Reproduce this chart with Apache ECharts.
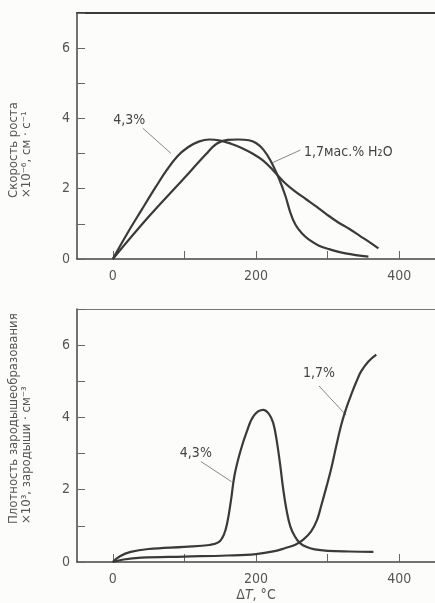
<!DOCTYPE html>
<html>
<head>
<meta charset="utf-8">
<script src="https://cdn.jsdelivr.net/npm/echarts@6/dist/echarts.min.js"></script>
<style>
  html, body { margin: 0; padding: 0; background: #fcfcfa; }
  #chart { width: 435px; height: 603px; }
</style>
</head>
<body>
<div id="chart"></div>
<script>
// верхняя панель: скорость роста (x10^-6 см/с)
const growthX43 = [0, 20, 40, 60, 75, 90, 105, 120, 135, 150, 165, 180, 195, 210, 225, 240, 255, 270, 285, 300, 315, 330, 345, 360, 371]
const growthY43 = [0, 0.72, 1.39, 2.05, 2.52, 2.92, 3.18, 3.34, 3.40, 3.37, 3.28, 3.16, 3.0, 2.8, 2.5, 2.17, 1.92, 1.70, 1.48, 1.25, 1.04, 0.86, 0.66, 0.46, 0.30]
const growthX17 = [0, 50, 97, 130, 145, 160, 175, 190, 200, 210, 220, 232, 241, 248, 255, 264, 274, 288, 302, 325, 357]
const growthY17 = [0, 1.2, 2.24, 2.98, 3.28, 3.39, 3.40, 3.38, 3.3, 3.12, 2.81, 2.29, 1.8, 1.32, 0.98, 0.73, 0.55, 0.38, 0.28, 0.16, 0.07]

// нижняя панель: плотность зародышеобразования (x10^3 см^-3)
const nucX43 = [0, 10, 25, 50, 100, 135, 148, 155, 160, 165, 170, 178, 187, 197, 210, 218, 224, 229, 234, 238, 243, 248, 254, 261, 270, 282, 300, 330, 364]
const nucY43 = [0, 0.16, 0.28, 0.36, 0.42, 0.47, 0.55, 0.75, 1.1, 1.7, 2.4, 3.05, 3.6, 4.05, 4.21, 4.1, 3.85, 3.35, 2.65, 2.02, 1.4, 0.98, 0.72, 0.53, 0.42, 0.35, 0.31, 0.29, 0.28]
const nucX17 = [0, 15, 40, 100, 160, 200, 226, 240, 255, 266, 277, 285, 291, 298, 305, 312, 319, 326, 333, 340, 347, 357, 368]
const nucY17 = [0, 0.07, 0.12, 0.15, 0.18, 0.22, 0.30, 0.38, 0.48, 0.62, 0.85, 1.15, 1.55, 2.05, 2.58, 3.2, 3.79, 4.25, 4.63, 4.98, 5.28, 5.55, 5.74]

const xTicks = [0, 100, 200, 300, 400]
const xLabels = [0, 200, 400]
const yLabels = [0, 2, 4, 6]

const titleTop = ['Скорость роста', '×10⁻⁶, см · с⁻¹']
const titleBottom = ['Плотность зародышеобразования', '×10³, зародыши · см⁻³']

// подписи кривых: [панель, текст, x, y, начало выноски, конец выноски]
const notes = [
  [0, '4,3%', 23, 3.95, [42, 3.72], [81, 3.01]],
  [0, '1,7мас.% H₂O', 267, 3.04, [262, 3.10], [222, 2.73]],
  [1, '4,3%', 116, 3.0, [123, 2.78], [166, 2.22]],
  [1, '1,7%', 288, 5.23, [288, 4.87], [326, 4.06]]
]

const FONT = '"DejaVu Sans Condensed", "Liberation Sans Narrow", "DejaVu Sans", sans-serif'
const INK = '#3a3a3a'

const zip = (xs, ys) => xs.map((x, i) => [x, ys[i]])

const chart = echarts.init(document.getElementById('chart'))

const xAxisFor = (gridIndex, withName) => ({
  gridIndex,
  type: 'value',
  min: -50,
  max: 450,
  axisLine: { onZero: false, lineStyle: { color: '#444', width: 1.5 } },
  axisTick: { inside: true, length: 8, customValues: xTicks, lineStyle: { color: '#666', width: 1 } },
  axisLabel: {
    customValues: xLabels,
    margin: 10,
    fontFamily: FONT,
    fontSize: 14,
    color: '#555',
    formatter: v => (xLabels.includes(v) ? String(v) : '')
  },
  splitLine: { show: false },
  name: withName ? '{d|Δ}{t|T}{d|, °C}' : '',
  nameLocation: 'middle',
  nameGap: 26,
  nameTextStyle: {
    rich: {
      d: { fontFamily: FONT, fontSize: 14, color: '#555' },
      t: { fontFamily: FONT, fontSize: 14, color: '#555', fontStyle: 'italic' }
    }
  }
})

const frameTop = (gridIndex, width, color) => ({
  gridIndex,
  type: 'value',
  position: 'top',
  min: -50,
  max: 450,
  axisLine: { show: true, onZero: false, lineStyle: { color, width } },
  axisTick: { show: false },
  axisLabel: { show: false },
  splitLine: { show: false }
})

const yAxisFor = gridIndex => ({
  gridIndex,
  type: 'value',
  position: 'left',
  min: 0,
  max: 7,
  interval: 1,
  axisLine: { show: true, onZero: false, lineStyle: { color: '#444', width: 1.5 } },
  axisTick: { show: true, inside: true, length: 8, lineStyle: { color: '#666', width: 1 } },
  axisLabel: {
    margin: 7,
    fontFamily: FONT,
    fontSize: 14,
    color: '#555',
    formatter: v => (yLabels.includes(v) ? String(v) : '')
  },
  splitLine: { show: false }
})

const curve = (xAxisIndex, yAxisIndex, xs, ys) => ({
  type: 'line',
  xAxisIndex,
  yAxisIndex,
  data: zip(xs, ys),
  smooth: 0.4,
  symbol: 'none',
  lineStyle: { color: INK, width: 2.2 },
  z: 3
})

chart.setOption({
  animation: false,
  backgroundColor: '#fcfcfa',
  grid: [
    { left: 77, top: 13, width: 358, height: 246 },
    { left: 77, top: 309, width: 358, height: 253 }
  ],
  xAxis: [xAxisFor(0, false), xAxisFor(1, true), frameTop(0, 2, '#3a3a3a'), frameTop(1, 1, '#777')],
  yAxis: [yAxisFor(0), yAxisFor(1)],
  series: [
    curve(0, 0, growthX43, growthY43),
    curve(0, 0, growthX17, growthY17),
    curve(1, 1, nucX43, nucY43),
    curve(1, 1, nucX17, nucY17)
  ]
})

// подписи осей Y (повёрнутые, выровнены по нижнему краю) и выноски
const graphics = []
const yTitle = (lines, yBottom) => ({
  type: 'text',
  x: 7,
  y: yBottom,
  rotation: Math.PI / 2,
  style: {
    text: lines.join('\n'),
    fontFamily: FONT,
    fontSize: 13,
    lineHeight: 13,
    fill: '#555',
    align: 'left',
    verticalAlign: 'top'
  }
})
graphics.push(yTitle(titleTop, 198))
graphics.push(yTitle(titleBottom, 524))

notes.forEach(([g, text, x, y, from, to]) => {
  const p = chart.convertToPixel({ gridIndex: g }, [x, y])
  const a = chart.convertToPixel({ gridIndex: g }, from)
  const b = chart.convertToPixel({ gridIndex: g }, to)
  const leftAligned = text.length > 5
  graphics.push({
    type: 'text',
    x: p[0],
    y: p[1],
    style: {
      text,
      fontFamily: FONT,
      fontSize: 14,
      fill: '#444',
      align: leftAligned ? 'left' : 'center',
      verticalAlign: 'middle'
    }
  })
  graphics.push({
    type: 'line',
    shape: { x1: a[0], y1: a[1], x2: b[0], y2: b[1] },
    style: { stroke: '#888', lineWidth: 1 }
  })
})

chart.setOption({ graphic: graphics })
</script>
</body>
</html>
